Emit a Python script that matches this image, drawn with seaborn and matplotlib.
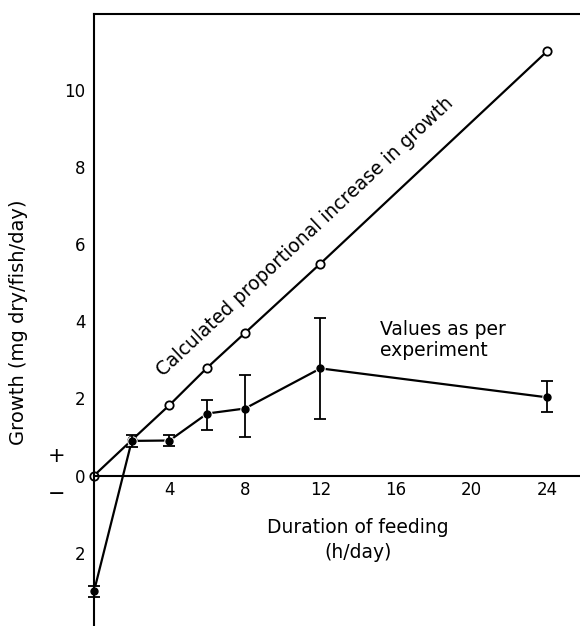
import numpy as np
import pandas as pd
import matplotlib
matplotlib.use("Agg")
import matplotlib.pyplot as plt
import seaborn as sns

# data
hours = [0, 2, 4, 6, 8, 12, 24]
calculated = [0.0, 0.92, 1.83, 2.8, 3.7, 5.5, 11.0]
measured = [-3.0, 0.9, 0.91, 1.61, 1.74, 2.78, 2.03]
err_low = [0.15, 0.15, 0.14, 0.42, 0.75, 1.3, 0.37]
err_high = [0.15, 0.15, 0.14, 0.36, 0.86, 1.3, 0.43]

yticks = [-2, 0, 2, 4, 6, 8, 10]
ytick_labels = ["2", "0", "2", "4", "6", "8", "10"]
xticks = [4, 8, 12, 16, 20, 24]

df_calc = pd.DataFrame({"hours": hours, "growth": calculated})
df_meas = pd.DataFrame({"hours": hours, "growth": measured})

sns.set_style("white")
plt.rcParams["font.family"] = ["DejaVu Sans"]
plt.rcParams["text.color"] = "black"
plt.rcParams["axes.labelcolor"] = "black"

fig = plt.figure(figsize=(5.8, 6.26), dpi=100)
ax = fig.add_axes([94 / 580, 0, 486 / 580, 612 / 626])

# calculated proportional line, open circles
sns.lineplot(data=df_calc, x="hours", y="growth", ax=ax, color="black",
             linewidth=1.6, marker="o", markersize=6, markerfacecolor="white",
             markeredgecolor="black", markeredgewidth=1.3, sort=False, clip_on=False)

# measured values, with white halo round the dots
sns.lineplot(data=df_meas, x="hours", y="growth", ax=ax, color="black",
             linewidth=1.6, marker="o", markersize=5, markerfacecolor="black",
             markeredgecolor="white", markeredgewidth=2.5, sort=False, clip_on=False)
ax.errorbar(hours, measured, yerr=[err_low, err_high], fmt="o", color="black",
            markersize=5, elinewidth=1.3, capsize=4, capthick=1.3, clip_on=False)

ax.set_xlim(0, 25.75)
ax.set_ylim(-3.9, 11.97)

ax.spines["right"].set_visible(False)
ax.spines["bottom"].set_position(("data", 0))
for s in ["left", "bottom", "top"]:
    ax.spines[s].set_linewidth(1.5)
    ax.spines[s].set_color("black")

ax.set_xticks(xticks)
ax.set_xticklabels([str(t) for t in xticks])
ax.set_yticks(yticks)
ax.set_yticklabels(ytick_labels)
ax.tick_params(axis="both", direction="in", length=9, width=1.3, colors="black",
               labelsize=12, pad=6)
ax.tick_params(axis="x", length=7, pad=4)

ax.set_xlabel("")
ax.set_ylabel("Growth (mg dry/fish/day)", fontsize=14)
ax.yaxis.set_label_coords(-0.135, 0.497)

angle = np.degrees(np.arctan2(11, 24))
ax.text(11.2, 6.2, "Calculated proportional increase in growth", fontsize=13.5,
        rotation=angle, transform_rotates_text=True, rotation_mode="anchor",
        ha="center", va="center")
ax.text(15.15, 4.03, "Values as per\nexperiment", fontsize=13.5, ha="left", va="top",
        linespacing=1.15)
ax.text(14.0, -1.1, "Duration of feeding\n(h/day)", fontsize=13.5, ha="center",
        va="top", multialignment="center", linespacing=1.4)

ax.text(-1.96, 0.5, "+", fontsize=15, ha="center", va="center")
ax.text(-1.96, -0.47, "\u2212", fontsize=15, ha="center", va="center")

fig.savefig("out.png", dpi=100)
